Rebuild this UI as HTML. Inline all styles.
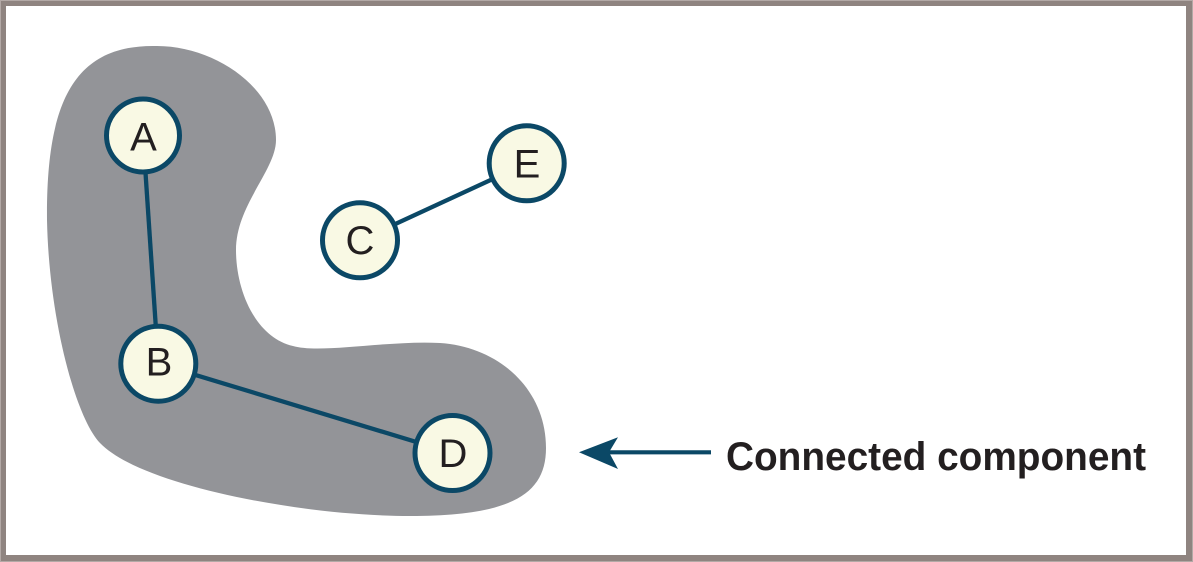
<!DOCTYPE html>
<html>
<head>
<meta charset="utf-8">
<style>
  html, body { margin:0; padding:0; background:#ffffff; }
  body { width:1193px; height:562px; overflow:hidden; }
  svg { display:block; }
</style>
</head>
<body>
<svg width="1193" height="562" viewBox="0 0 1193 562" xmlns="http://www.w3.org/2000/svg">
  <!-- frame -->
  <rect x="0" y="0" width="1193" height="562" fill="#b3a9a6"/>
  <rect x="1" y="1" width="1191" height="560" fill="#8f8480"/>
  <rect x="6" y="6" width="1180" height="549" fill="#ffffff"/>

  <!-- connected component blob -->
  <path d="M157,46
           C215,46 276,88 276,140
           C276,170 236,205 236,250
           C236,290 255,337 293,346
           C320,354 390,340 440,343
           C500,347 546,390 546,448
           C546,495 510,516 410,516
           C300,516 140,485 100,443
           C76,418 49,320 47,220
           C46,100 75,44 157,46 Z"
        fill="#939498"/>

  <!-- edges -->
  <g stroke="#0b4866" stroke-width="4.3" stroke-linecap="butt">
    <line x1="143" y1="135.5" x2="158.3" y2="363.7"/>
    <line x1="158.3" y1="363.7" x2="452.5" y2="453"/>
    <line x1="360" y1="240.3" x2="526.7" y2="163.3"/>
  </g>

  <!-- nodes -->
  <g fill="#f9f9e4" stroke="#0b4866" stroke-width="5">
    <circle cx="143" cy="135.5" r="36.5"/>
    <circle cx="158.3" cy="363.7" r="37.5"/>
    <circle cx="360" cy="240.3" r="37.5"/>
    <circle cx="452.5" cy="453" r="37.5"/>
    <circle cx="526.7" cy="163.3" r="37.5"/>
  </g>
  <g font-family="'Liberation Sans', Arial, sans-serif" font-size="40" fill="#231f20" text-anchor="middle">
    <text x="143.5" y="150.5">A</text>
    <text x="159" y="375.5">B</text>
    <text x="360" y="254">C</text>
    <text x="453" y="467">D</text>
    <text x="527" y="177.5">E</text>
  </g>

  <!-- arrow -->
  <line x1="607" y1="452.3" x2="711" y2="452.3" stroke="#0b4866" stroke-width="4.2"/>
  <polygon points="579,452.3 618,437.3 609,452.3 618,469" fill="#0b4866"/>

  <text x="726" y="470" font-family="'Liberation Sans', Arial, sans-serif" font-size="40" font-weight="bold" fill="#231f20" textLength="420" lengthAdjust="spacingAndGlyphs">Connected component</text>
</svg>
</body>
</html>
